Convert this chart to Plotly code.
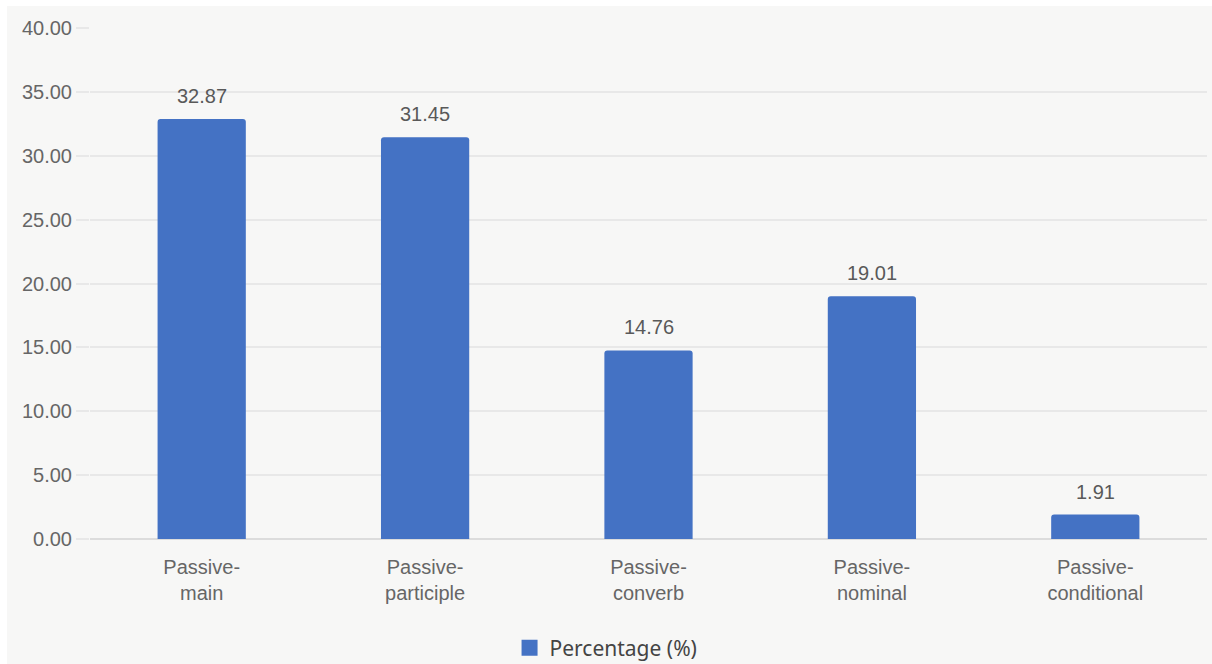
import plotly.graph_objects as go

# Passive construction types and their share of occurrences
categories = ["Passive-<br>main", "Passive-<br>participle", "Passive-<br>converb",
              "Passive-<br>nominal", "Passive-<br>conditional"]
percentages = [32.87, 31.45, 14.76, 19.01, 1.91]
y_ticks = [0, 5, 10, 15, 20, 25, 30, 35, 40]
series_name = "Percentage (%)"

W, H = 1212, 664
ML, MR, MT, MB = 90, 5, 28, 125
BG = "#f7f7f6"
BAR = "#4472c4"
TXT = "#666666"
GRID = "#e8e8e8"
FONT = "Liberation Sans, Arial, sans-serif"

fig = go.Figure()
fig.add_trace(go.Bar(
    x=categories,
    y=percentages,
    name=series_name,
    marker=dict(color=BAR, cornerradius=3, line=dict(width=0)),
    width=0.395,
    showlegend=False,
))
# legend entry with a larger square swatch
fig.add_trace(go.Scatter(
    x=[None], y=[None], mode="markers", name=series_name,
    marker=dict(symbol="square", size=16, color=BAR),
    showlegend=True,
))

# value labels above each bar
for cat, val in zip(categories, percentages):
    fig.add_annotation(
        x=cat, y=val, text=f"{val:.2f}", showarrow=False,
        yanchor="bottom", yshift=10,
        font=dict(family=FONT, size=20, color="#595959"),
    )

# thin white border along the top and left of the card
pw = W - ML - MR
ph = H - MT - MB
fig.add_shape(type="rect", xref="paper", yref="paper", layer="below",
              x0=-ML / pw, x1=(7 - ML) / pw, y0=-MB / ph, y1=1 + MT / ph,
              fillcolor="white", line_width=0)
fig.add_shape(type="rect", xref="paper", yref="paper", layer="below",
              x0=-ML / pw, x1=1 + MR / pw, y0=1 + (MT - 6) / ph, y1=1 + MT / ph,
              fillcolor="white", line_width=0)

fig.update_layout(
    width=W, height=H,
    margin=dict(l=ML, r=MR, t=MT, b=MB, autoexpand=False),
    paper_bgcolor=BG,
    plot_bgcolor=BG,
    font=dict(family=FONT, size=20, color=TXT),
    showlegend=True,
    legend=dict(
        orientation="h", x=0.462, xanchor="center",
        yref="container", y=16 / H, yanchor="middle",
        font=dict(family="Noto Sans, sans-serif", size=21, color="#444444"),
        bgcolor="rgba(0,0,0,0)",
        itemsizing="trace",
    ),
    xaxis=dict(
        showgrid=False, showline=False, zeroline=False,
        ticks="", tickfont=dict(size=20, color=TXT),
        ticklabelstandoff=14,
    ),
    yaxis=dict(
        range=[0, 40],
        tickvals=y_ticks,
        tickformat=".2f",
        showgrid=True, gridcolor=GRID, gridwidth=1.5,
        zeroline=True, zerolinecolor="#dcdcdc", zerolinewidth=2,
        showline=False,
        ticks="outside", ticklen=13, tickcolor=GRID, tickwidth=1.5,
        tickfont=dict(size=20, color=TXT),
    ),
)

fig.write_html("out.html")
